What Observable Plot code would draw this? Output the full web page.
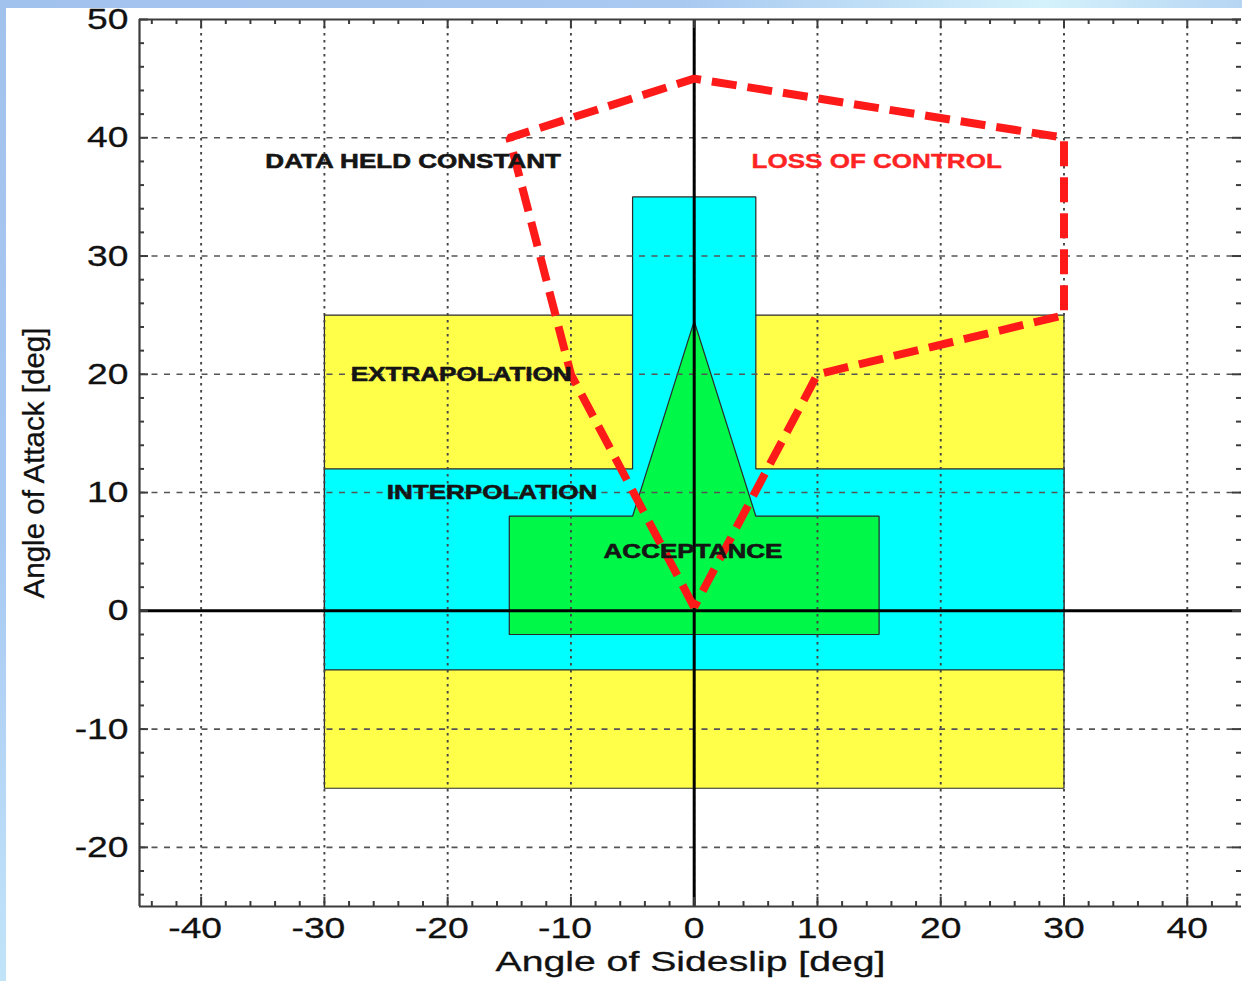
<!DOCTYPE html>
<html><head><meta charset="utf-8">
<script src="https://cdn.jsdelivr.net/npm/d3@7"></script>
<script src="https://cdn.jsdelivr.net/npm/@observablehq/plot@0.6"></script>
<style>
html,body{margin:0;padding:0;background:#fff;}
#page{position:relative;width:1242px;height:981px;overflow:hidden;background:#fff;}
#topstrip{position:absolute;left:0;top:0;width:1242px;height:8px;background:linear-gradient(90deg,#a2c2ee 0%,#a9c9f1 55%,#d4f2fb 84%,#b6d5f3 100%);}
#leftstrip{position:absolute;left:0;top:0;width:6px;height:981px;background:linear-gradient(180deg,#a2c2ee 0%,#a8c9f2 55%,#c2e4f9 100%);}
#chart{position:absolute;left:0;top:0;}
</style></head><body>
<div id="page"><div id="topstrip"></div><div id="leftstrip"></div><div id="chart"></div></div>
<script>
// ---- data ----
const xTickValues = [-40, -30, -20, -10, 0, 10, 20, 30, 40];
const yTickValues = [-20, -10, 0, 10, 20, 30, 40, 50];
const xMinorTicks = [-44,-42,-38,-36,-34,-32,-28,-26,-24,-22,-18,-16,-14,-12,-8,-6,-4,-2,2,4,6,8,12,14,16,18,22,24,26,28,32,34,36,38,42,44];
const yMinorTicks = [-24,-22,-18,-16,-14,-12,-8,-6,-4,-2,2,4,6,8,12,14,16,18,22,24,26,28,32,34,36,38,42,44,46,48];

// Extrapolation region (yellow)
const extrapX = [-30, -30, 30, 30, -30];
const extrapY = [-15, 25, 25, -15, -15];
// Interpolation region (cyan)
const interpX = [-30, -30, -5, -5, 5, 5, 30, 30, -30];
const interpY = [-5, 12, 12, 35, 35, 12, 12, -5, -5];
// Acceptance region (green)
const acceptX = [-15, -15, -5, 0, 5, 15, 15, -15];
const acceptY = [-2, 8, 8, 24.5, 8, 8, -2, -2];
// Loss of control boundary (red dashed)
const lossX = [0, -10, -15, 0, 30, 30, 10, 0];
const lossY = [0.3, 20, 40, 45, 40, 25, 20, 0.3];

// Region labels
const labelText = ["DATA HELD CONSTANT", "EXTRAPOLATION", "INTERPOLATION", "ACCEPTANCE"];
const labelX = [-22.8, -18.9, -16.4, -0.1];
const labelY = [38, 20, 10, 5];
const redLabelText = ["LOSS OF CONTROL"];
const redLabelX = [14.8];
const redLabelY = [38];

const xTitle = "Angle of Sideslip [deg]";
const yTitle = "Angle of Attack [deg]";

// ---- chart ----
const X0 = -45, X1 = 44.4, Y0 = -25, Y1 = 50;
const font = "'Liberation Sans', Arial, Helvetica, sans-serif";
const pts = (xs, ys) => xs.map((x, i) => ({x, y: ys[i]}));
const labels = labelText.map((t, i) => ({t, x: labelX[i], y: labelY[i]}));
const redLabels = redLabelText.map((t, i) => ({t, x: redLabelX[i], y: redLabelY[i]}));
const tickStroke = "#3c3c3c";

const svg = Plot.plot({
  width: 1242,
  height: 981,
  marginLeft: 139,
  marginRight: 1,
  marginTop: 19,
  marginBottom: 75,
  style: {background: "transparent", overflow: "visible", fontFamily: font},
  x: {domain: [X0, X1], axis: null},
  y: {domain: [Y0, Y1], axis: null},
  marks: [
    Plot.line(pts(extrapX, extrapY), {x: "x", y: "y", fill: "#ffff4a", stroke: "#2a2a2a", strokeWidth: 1.2, strokeLinejoin: "miter"}),
    Plot.line(pts(interpX, interpY), {x: "x", y: "y", fill: "#00ffff", stroke: "#2a2a2a", strokeWidth: 1.2, strokeLinejoin: "miter"}),
    Plot.line(pts(acceptX, acceptY), {x: "x", y: "y", fill: "#00f848", stroke: "#2a2a2a", strokeWidth: 1.2, strokeLinejoin: "miter"}),
    // grid
    Plot.ruleX(xTickValues, {stroke: "#444", strokeWidth: 1.9, strokeDasharray: "2.5,4.5"}),
    Plot.ruleY(yTickValues.filter(v => v > Y0 && v < Y1), {stroke: "#555", strokeWidth: 1.6, strokeDasharray: "6,6.5"}),
    // zero axes
    Plot.ruleX([0], {stroke: "#000", strokeWidth: 3}),
    Plot.ruleY([0], {stroke: "#000", strokeWidth: 3}),
    // loss of control boundary
    Plot.line(pts(lossX, lossY), {x: "x", y: "y", stroke: "#ff1a1a", strokeWidth: 8, strokeDasharray: "25,11", strokeLinecap: "butt", strokeLinejoin: "miter"}),
    // frame
    Plot.ruleX([X0], {stroke: tickStroke, strokeWidth: 2.2}),
    Plot.ruleY([Y0], {stroke: tickStroke, strokeWidth: 2.2}),
    Plot.ruleY([Y1], {stroke: tickStroke, strokeWidth: 2.2}),
    // ticks bottom / top
    Plot.ruleX(xTickValues, {y1: Y0, y2: Y0, insetTop: -9, stroke: tickStroke, strokeWidth: 2}),
    Plot.ruleX(xMinorTicks, {y1: Y0, y2: Y0, insetTop: -5, stroke: tickStroke, strokeWidth: 2}),
    Plot.ruleX(xTickValues, {y1: Y1, y2: Y1, insetBottom: -9, stroke: tickStroke, strokeWidth: 2}),
    Plot.ruleX(xMinorTicks, {y1: Y1, y2: Y1, insetBottom: -5, stroke: tickStroke, strokeWidth: 2}),
    // ticks left / right
    Plot.ruleY(yTickValues, {x1: X0, x2: X0, insetRight: -9, stroke: tickStroke, strokeWidth: 2}),
    Plot.ruleY(yMinorTicks, {x1: X0, x2: X0, insetRight: -5, stroke: tickStroke, strokeWidth: 2}),
    Plot.ruleY(yTickValues, {x1: X1, x2: X1, insetLeft: -9, stroke: tickStroke, strokeWidth: 2}),
    Plot.ruleY(yMinorTicks, {x1: X1, x2: X1, insetLeft: -5, stroke: tickStroke, strokeWidth: 2}),
    // tick labels
    Plot.text(xTickValues.filter(v => v >= 0), {x: d => d, y: Y0, text: d => String(d), dy: 22, fontSize: 30, fill: "#111", stroke: "#111", strokeWidth: 0.3, fontFamily: font}),
    Plot.text(xTickValues.filter(v => v < 0), {x: d => d, y: Y0, text: d => String(d), dy: 22, dx: -6, fontSize: 30, fill: "#111", stroke: "#111", strokeWidth: 0.3, fontFamily: font}),
    Plot.text(yTickValues, {x: X0, y: d => d, text: d => String(d), dx: -11, textAnchor: "end", fontSize: 30, fill: "#111", stroke: "#111", strokeWidth: 0.3, fontFamily: font}),
    // axis titles
    Plot.text([xTitle], {frameAnchor: "bottom", text: d => d, dy: 56, lineAnchor: "middle", textAnchor: "middle", fontSize: 27, fill: "#111", stroke: "#111", strokeWidth: 0.3, fontFamily: font}),
    Plot.text([yTitle], {frameAnchor: "left", text: d => d, dx: -105, rotate: -90, lineAnchor: "middle", textAnchor: "middle", fontSize: 30, fill: "#111", stroke: "#111", strokeWidth: 0.3, fontFamily: font}),
    // region labels
    Plot.text(labels, {x: "x", y: "y", text: "t", fontSize: 21, fontWeight: "bold", fill: "#151515", stroke: "#151515", strokeWidth: 0.6, fontFamily: font}),
    Plot.text(redLabels, {x: "x", y: "y", text: "t", fontSize: 21, fontWeight: "bold", fill: "#ff2424", stroke: "#ff2424", strokeWidth: 0.4, fontFamily: font})
  ]
});
document.getElementById("chart").append(svg);

// horizontal stretch of text to match the reference's wide lettering
svg.querySelectorAll("text").forEach(el => {
  const s = el.textContent;
  let target;
  if (s === xTitle) target = 390;
  else if (s === yTitle) target = 271;
  else target = el.getComputedTextLength() * 1.24;
  el.setAttribute("textLength", target.toFixed(1));
  el.setAttribute("lengthAdjust", "spacingAndGlyphs");
});
</script>
</body></html>
